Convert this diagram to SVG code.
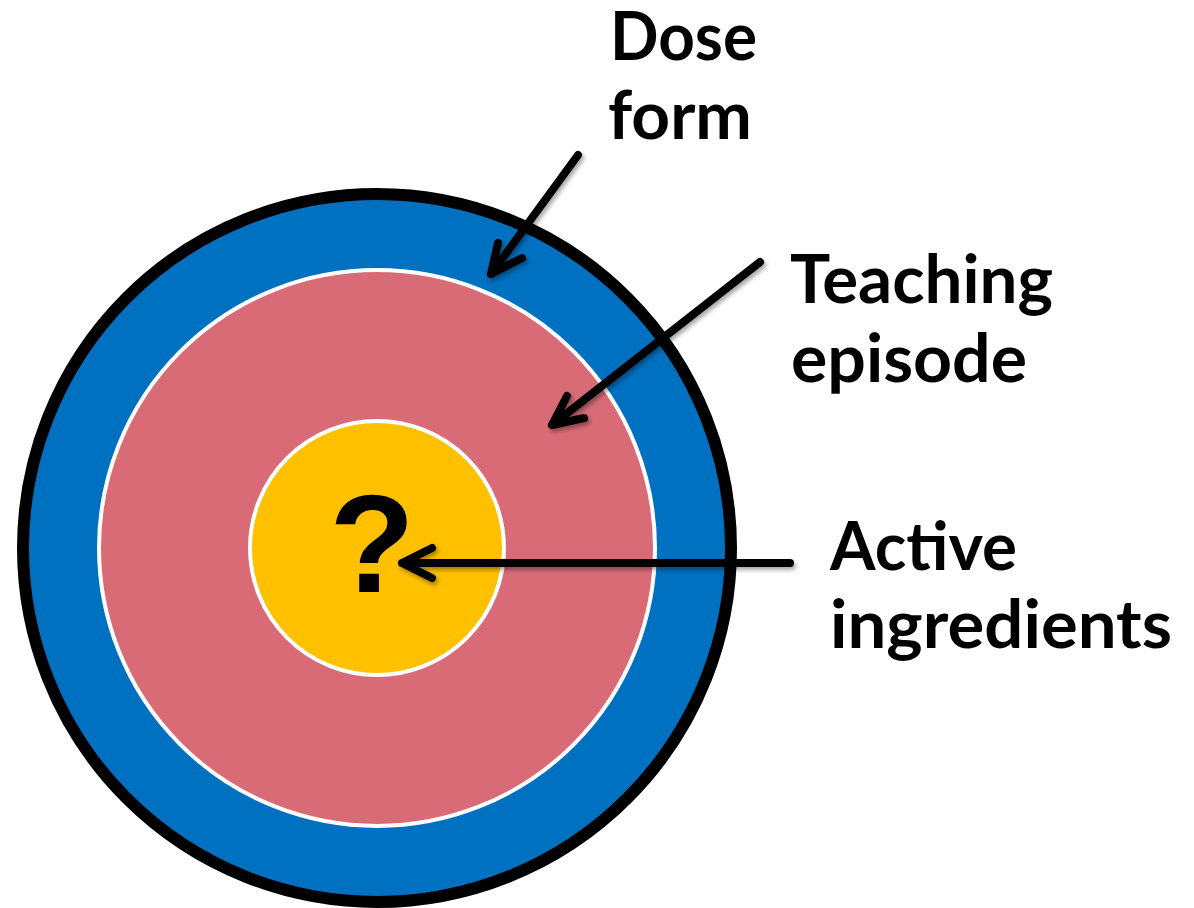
<svg xmlns="http://www.w3.org/2000/svg" width="1194" height="908" viewBox="0 0 1194 908">
<defs>
<filter id="sh" x="-20%" y="-20%" width="140%" height="140%">
<feDropShadow dx="2" dy="3" stdDeviation="2" flood-color="#000" flood-opacity="0.35"/>
</filter>
</defs>
<style>
.lbl{font-family:Lato,"Open Sans","Liberation Sans",sans-serif;font-weight:bold;font-size:66px;fill:#000}
.arr{fill:none;stroke:#000;stroke-width:8;stroke-linecap:round;stroke-linejoin:round}
</style>
<rect width="1194" height="908" fill="#fff"/>
<g id="dose-form-ring">
<circle cx="377" cy="548" r="354" fill="#0070C0" stroke="#000" stroke-width="12"/>
</g>
<g id="teaching-episode-ring">
<circle cx="377" cy="548" r="278" fill="#D96B77" stroke="#fff" stroke-width="4"/>
</g>
<g id="active-ingredients-core">
<circle cx="377" cy="548" r="127" fill="#FFC000" stroke="#fff" stroke-width="4"/>
<text x="372" y="592" text-anchor="middle" font-family="'Liberation Sans',Arial,sans-serif" font-weight="bold" font-size="140" fill="#000">?</text>
</g>
<g id="connectors" filter="url(#sh)">
<path class="arr" d="M578,155 L491,274 M498,243 L491,274 L522,258"/>
<path class="arr" d="M760,262 L552,425 M567,396 L552,425 L584,418"/>
<path class="arr" d="M790,563 L402,563 M432,548 L402,563 L432,578"/>
</g>
<g id="label-dose-form">
<text class="lbl" x="610" y="60" textLength="147" lengthAdjust="spacingAndGlyphs">Dose</text>
<text class="lbl" x="608" y="139" textLength="144" lengthAdjust="spacingAndGlyphs">form</text>
</g>
<g id="label-teaching-episode">
<text class="lbl" x="790" y="303" textLength="263" lengthAdjust="spacingAndGlyphs">Teaching</text>
<text class="lbl" x="791" y="382" textLength="236" lengthAdjust="spacingAndGlyphs">episode</text>
</g>
<g id="label-active-ingredients">
<text class="lbl" x="830" y="570" textLength="187" lengthAdjust="spacingAndGlyphs">Active</text>
<text class="lbl" x="830" y="648" textLength="342" lengthAdjust="spacingAndGlyphs">ingredients</text>
</g>
</svg>
